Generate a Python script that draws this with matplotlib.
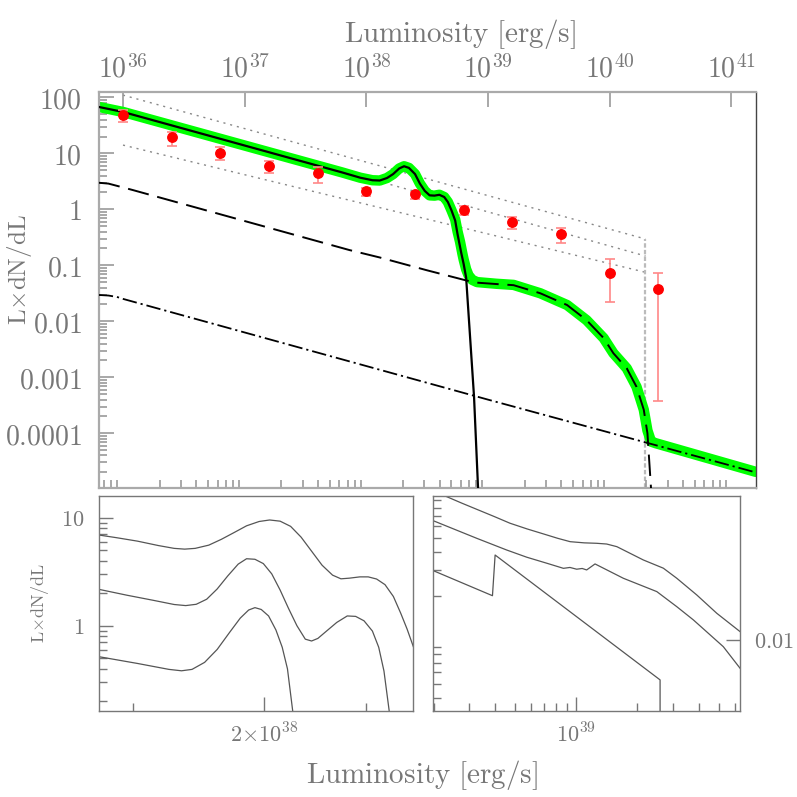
import numpy as np
import matplotlib
matplotlib.use('Agg')
from matplotlib import pyplot as plt
from matplotlib import ticker

plt.rcParams['mathtext.fontset'] = 'cm'

# ---- main panel (log10 L, log10 L dN/dL) ----
total_logL = [35.80, 36.00, 36.50, 37.00, 37.50, 37.80, 37.95, 38.05, 38.11, 38.17,
              38.22, 38.27, 38.31, 38.35, 38.40, 38.44, 38.48, 38.52, 38.56, 38.60,
              38.64, 38.67, 38.70, 38.73, 38.75, 38.77, 38.79, 38.80, 38.82, 38.84,
              38.87, 38.91, 39.07, 39.21, 39.43, 39.65, 39.81, 39.95, 40.03, 40.14,
              40.22, 40.28, 40.31, 40.34, 40.38, 41.20]
total_logY = [1.83, 1.74, 1.44, 1.14, 0.84, 0.66, 0.565, 0.52, 0.515, 0.56,
              0.63, 0.73, 0.77, 0.74, 0.63, 0.46, 0.33, 0.25, 0.245, 0.26,
              0.22, 0.13, -0.02, -0.18, -0.40, -0.58, -0.80, -0.90, -1.07, -1.18,
              -1.26, -1.30, -1.33, -1.35, -1.50, -1.71, -1.98, -2.30, -2.57, -2.84,
              -3.17, -3.58, -3.95, -4.15, -4.18, -4.69]

comp1_logL = [35.80, 36.00, 36.50, 37.00, 37.50, 37.80, 37.95, 38.05, 38.11, 38.17,
              38.22, 38.27, 38.31, 38.35, 38.40, 38.44, 38.48, 38.52, 38.56, 38.60,
              38.64, 38.67, 38.70, 38.73, 38.75, 38.78, 38.80, 38.82, 38.85, 38.885, 38.918]
comp1_logY = [1.83, 1.74, 1.44, 1.14, 0.84, 0.66, 0.565, 0.52, 0.515, 0.56,
              0.63, 0.73, 0.77, 0.74, 0.63, 0.46, 0.33, 0.25, 0.245, 0.26,
              0.22, 0.13, -0.02, -0.20, -0.45, -0.78, -0.98, -1.22, -2.20, -3.35, -4.98]

comp2_logL = [35.80, 35.88, 35.95, 36.08, 37.86, 38.11, 38.50, 38.82, 38.91, 39.07,
              39.21, 39.43, 39.65, 39.81, 39.95, 40.03, 40.14, 40.22, 40.28, 40.31,
              40.325, 40.34]
comp2_logY = [0.475, 0.46, 0.42, 0.345, -0.727, -0.86, -1.09, -1.27, -1.31, -1.335,
              -1.355, -1.50, -1.71, -1.98, -2.30, -2.57, -2.84, -3.17, -3.58, -4.0,
              -4.5, -5.0]

comp3_logL = [35.80, 35.88, 35.95, 36.00, 37.00, 38.00, 39.00, 40.00, 41.20]
comp3_logY = [-1.53, -1.54, -1.565, -1.60, -2.20, -2.80, -3.40, -3.99, -4.70]

# dotted reference lines: start/end
dot_logL = [36.0, 40.294]
dot_upper = [2.041, -0.530]
dot_middle = [1.782, -0.834]
dot_lower = [1.148, -1.125]
cut_logL = 40.294

# observed points
pts_logL = [36.0, 36.4, 36.8, 37.2, 37.6, 38.0, 38.4, 38.8, 39.2, 39.6, 40.0, 40.4]
pts_y = [48.3, 19.3, 10.0, 5.9, 4.4, 2.15, 1.85, 0.97, 0.60, 0.37, 0.074, 0.037]
pts_hi = [58.9, 24.3, 13.2, 7.4, 5.75, 2.37, 2.06, 1.16, 0.74, 0.47, 0.128, 0.074]
pts_lo = [36.3, 13.5, 7.6, 4.4, 3.0, 1.75, 1.51, 0.79, 0.44, 0.254, 0.022, 0.00037]

main_yticks = [100, 10, 1, 0.1, 0.01, 0.001, 0.0001]
main_ylabels = ['100', '10', '1', '0.1', '0.01', '0.001', '0.0001']
main_xticks = [1e36, 1e37, 1e38, 1e39, 1e40, 1e41]
main_xlabels = ['36', '37', '38', '39', '40', '41']

# ---- lower left panel ----
ll_a_logL = [38.143, 38.160, 38.180, 38.200, 38.215, 38.225, 38.235, 38.248, 38.260, 38.272,
             38.284, 38.296, 38.306, 38.316, 38.326, 38.336, 38.346, 38.356, 38.366, 38.374,
             38.382, 38.392, 38.400, 38.408, 38.416, 38.424, 38.431, 38.437, 38.443]
ll_a_logY = [0.840, 0.815, 0.783, 0.742, 0.716, 0.709, 0.716, 0.746, 0.800, 0.862,
             0.925, 0.965, 0.979, 0.968, 0.920, 0.820, 0.690, 0.560, 0.468, 0.434,
             0.440, 0.452, 0.452, 0.432, 0.380, 0.270, 0.115, -0.030, -0.194]
ll_b_logL = [38.143, 38.170, 38.195, 38.215, 38.226, 38.236, 38.246, 38.256, 38.266, 38.276,
             38.284, 38.292, 38.300, 38.308, 38.316, 38.324, 38.332, 38.340, 38.346, 38.352,
             38.360, 38.370, 38.380, 38.388, 38.396, 38.404, 38.410, 38.415, 38.420]
ll_b_logY = [0.337, 0.282, 0.235, 0.196, 0.186, 0.198, 0.245, 0.340, 0.460, 0.570,
             0.620, 0.615, 0.575, 0.480, 0.330, 0.160, 0.000, -0.125, -0.142, -0.118,
             -0.052, 0.030, 0.090, 0.086, 0.045, -0.050, -0.200, -0.420, -0.790]
ll_c_logL = [38.143, 38.180, 38.210, 38.222, 38.232, 38.244, 38.256, 38.268, 38.278, 38.286,
             38.292, 38.298, 38.305, 38.312, 38.318, 38.323, 38.328]
ll_c_logY = [-0.287, -0.350, -0.405, -0.418, -0.405, -0.340, -0.220, -0.060, 0.070, 0.145,
             0.167, 0.150, 0.090, -0.040, -0.200, -0.400, -0.790]

# ---- lower right panel ----
lr_a_logL = [38.358, 38.440, 38.513, 38.600, 38.676, 38.760, 38.840, 38.910, 38.971, 39.040,
             39.101, 39.150, 39.200, 39.260, 39.330, 39.428, 39.494, 39.592, 39.690, 39.804]
lr_a_logY = [-1.017, -1.066, -1.108, -1.158, -1.203, -1.242, -1.276, -1.306, -1.329, -1.337,
             -1.340, -1.345, -1.363, -1.405, -1.454, -1.510, -1.579, -1.693, -1.818, -1.943]
lr_b_logL = [38.300, 38.513, 38.660, 38.758, 38.856, 38.938, 38.970, 39.003, 39.030, 39.052,
             39.093, 39.232, 39.396, 39.494, 39.575, 39.722, 39.804]
lr_b_logY = [-1.186, -1.306, -1.386, -1.435, -1.476, -1.511, -1.505, -1.517, -1.512, -1.522,
             -1.481, -1.579, -1.670, -1.773, -1.863, -2.046, -2.193]
lr_c_logL = [38.300, 38.590, 38.603, 39.412, 39.412]
lr_c_logY = [-1.527, -1.698, -1.420, -2.273, -2.485]


def p10(v):
    return 10 ** np.array(v, dtype=float)


TXT = '#777777'
fig = plt.figure(figsize=(7.97, 7.97), dpi=100)

# main panel
ax = fig.add_axes([0.1238, 0.3877, 0.8244, 0.4969])
ax.set_xscale('log')
ax.set_yscale('log')
ax.plot(p10(total_logL), p10(total_logY), color='#00ff00', lw=7.5,
        solid_capstyle='round', solid_joinstyle='round', zorder=2)
ax.plot(p10(comp1_logL), p10(comp1_logY), color='black', lw=1.6, zorder=3)
ax.plot(p10(comp2_logL), p10(comp2_logY), color='black', lw=1.4, dashes=(11, 4.5), zorder=3)
ax.plot(p10(comp3_logL), p10(comp3_logY), color='black', lw=1.3,
        dashes=(8, 2.2, 1.2, 2.2), zorder=3)
for d in (dot_upper, dot_middle, dot_lower):
    ax.plot(p10(dot_logL), p10(d), color='#888888', lw=1.0, dashes=(1.5, 3.5), zorder=1)
ax.vlines(10 ** cut_logL, 1e-7, 10 ** dot_upper[1], color='#bbbbbb', lw=1.6,
          linestyles=(0, (2.0, 1.0)), zorder=1)

py = np.array(pts_y)
ax.errorbar(p10(pts_logL), py, yerr=[py - np.array(pts_lo), np.array(pts_hi) - py],
            fmt='o', color='red', ms=6.8, mec='red', ecolor='#ff8888', elinewidth=1.2,
            capsize=3.3, capthick=1.2, zorder=5)

ax.set_xlim(10 ** 35.8, 10 ** 41.2)
ax.set_ylim(1.05e-5, 125)
ax.xaxis.set_major_locator(ticker.FixedLocator(main_xticks))
ax.xaxis.set_major_formatter(ticker.FixedFormatter([r'$10^{%s}$' % s for s in main_xlabels]))
ax.xaxis.set_minor_locator(ticker.LogLocator(subs=np.arange(2, 10)))
ax.xaxis.set_minor_formatter(ticker.NullFormatter())
ax.yaxis.set_major_locator(ticker.FixedLocator(main_yticks))
ax.yaxis.set_major_formatter(ticker.FixedFormatter(['$%s$' % s for s in main_ylabels]))
ax.yaxis.set_minor_locator(ticker.LogLocator(subs=np.arange(2, 10)))
ax.yaxis.set_minor_formatter(ticker.NullFormatter())
ax.tick_params(axis='both', which='both', direction='in', colors='#999999',
               labelcolor=TXT, width=1.2, labelsize=20)
ax.tick_params(which='major', length=11)
ax.tick_params(which='minor', length=5.5)
ax.tick_params(axis='x', top=True, bottom=False, labeltop=True, labelbottom=False, pad=6)
ax.tick_params(axis='y', left=True, right=False, pad=12)
for s in ('left', 'top', 'bottom'):
    ax.spines[s].set_color('#aaaaaa')
    ax.spines[s].set_linewidth(1.6)
ax.spines['right'].set_color('#444444')
ax.spines['right'].set_linewidth(1.0)

# lower left
axl = fig.add_axes([0.1238, 0.1079, 0.3948, 0.2698])
axl.set_xscale('log')
axl.set_yscale('log')
for cx, cy in ((ll_a_logL, ll_a_logY), (ll_b_logL, ll_b_logY), (ll_c_logL, ll_c_logY)):
    axl.plot(p10(cx), p10(cy), color='#555555', lw=0.9)
axl.set_xlim(10 ** 38.143, 10 ** 38.443)
axl.set_ylim(0.162, 15.9)
axl.xaxis.set_major_locator(ticker.FixedLocator([2e38]))
axl.xaxis.set_major_formatter(ticker.FixedFormatter([r'$2{\times}10^{38}$']))
axl.xaxis.set_minor_locator(ticker.FixedLocator([1.5e38, 2.5e38]))
axl.xaxis.set_minor_formatter(ticker.NullFormatter())
axl.yaxis.set_major_locator(ticker.FixedLocator([1, 10]))
axl.yaxis.set_major_formatter(ticker.FixedFormatter(['$1$', '$10$']))
axl.yaxis.set_minor_locator(ticker.LogLocator(subs=np.arange(2, 10)))
axl.yaxis.set_minor_formatter(ticker.NullFormatter())
axl.tick_params(axis='both', which='both', direction='in', colors='#777777',
                labelcolor=TXT, width=1.0, labelsize=16)
axl.tick_params(which='major', length=10)
axl.tick_params(which='minor', length=5.5)
axl.tick_params(axis='x', top=False, bottom=True, pad=8)
axl.tick_params(axis='y', left=True, right=False, pad=10)

# lower right
axr = fig.add_axes([0.5437, 0.1079, 0.3848, 0.2698])
axr.set_xscale('log')
axr.set_yscale('log')
for cx, cy in ((lr_a_logL, lr_a_logY), (lr_b_logL, lr_b_logY), (lr_c_logL, lr_c_logY)):
    axr.plot(p10(cx), p10(cy), color='#555555', lw=0.9)
axr.set_xlim(10 ** 38.30, 10 ** 39.804)
axr.set_ylim(0.00327, 0.0962)
axr.xaxis.set_major_locator(ticker.FixedLocator([1e39]))
axr.xaxis.set_major_formatter(ticker.FixedFormatter([r'$10^{39}$']))
axr.xaxis.set_minor_locator(ticker.LogLocator(subs=np.arange(2, 10)))
axr.xaxis.set_minor_formatter(ticker.NullFormatter())
axr.yaxis.set_major_locator(ticker.FixedLocator([0.01]))
axr.yaxis.set_major_formatter(ticker.FixedFormatter(['$0.01$']))
axr.yaxis.set_minor_locator(ticker.LogLocator(subs=np.arange(2, 10)))
axr.yaxis.set_minor_formatter(ticker.NullFormatter())
axr.tick_params(axis='both', which='both', direction='in', colors='#777777',
                labelcolor=TXT, width=1.0, labelsize=16)
axr.tick_params(which='major', length=10)
axr.tick_params(which='minor', length=5.5)
axr.tick_params(axis='x', top=False, bottom=True, pad=8)
axr.tick_params(axis='y', left=False, right=True, labelleft=False, labelright=True, pad=10)

for a in (axl, axr):
    for s in a.spines.values():
        s.set_color('#777777')
        s.set_linewidth(1.0)

# axis titles
fig.text(460 / 797, 1 - 34 / 797, r'$\mathrm{Luminosity\ [erg/s]}$', color=TXT,
         fontsize=21, ha='center', va='center')
fig.text(422 / 797, 1 - 775 / 797, r'$\mathrm{Luminosity\ [erg/s]}$', color=TXT,
         fontsize=21, ha='center', va='center')
fig.text(20 / 797, 1 - 270 / 797, r'$\mathrm{L{\times}dN/dL}$', color=TXT,
         fontsize=18, rotation=90, ha='center', va='center')
fig.text(40 / 797, 1 - 603 / 797, r'$\mathrm{L{\times}dN/dL}$', color=TXT,
         fontsize=13, rotation=90, ha='center', va='center')

fig.savefig('out.png', dpi=100)
